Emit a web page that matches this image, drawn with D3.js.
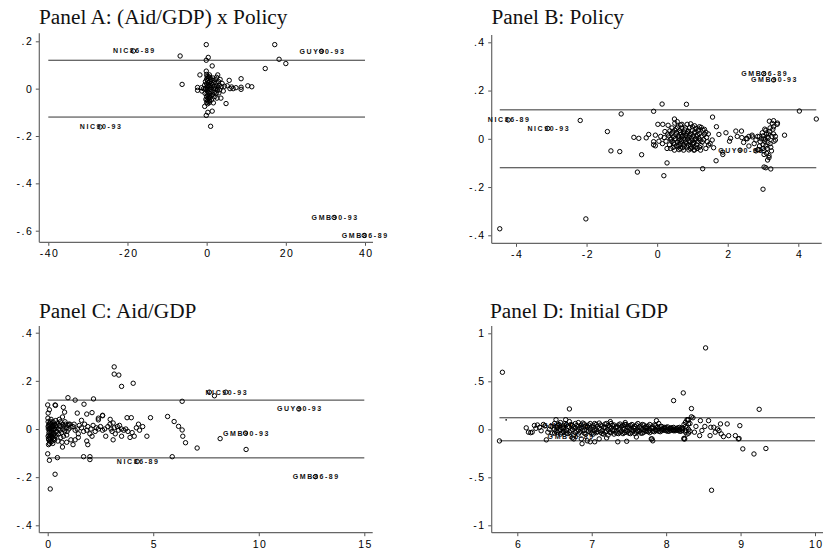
<!DOCTYPE html>
<html><head><meta charset="utf-8">
<script src="https://cdn.jsdelivr.net/npm/d3@7"></script>
<style>body{margin:0;background:#fff}</style></head>
<body><svg id="c" width="823" height="553"></svg>
<script>
// ---------------- DATA ----------------
const titles = ["Panel A: (Aid/GDP) x Policy", "Panel B: Policy", "Panel C: Aid/GDP", "Panel D: Initial GDP"];
const bandLimits = [-0.12, 0.12];

const ticksXA = [-40, -20, 0, 20, 40];
const tickLabelsXA = ["-40", "-20", "0", "20", "40"];
const ticksYA = [-0.6, -0.4, -0.2, 0, 0.2];
const tickLabelsYA = ["-.6", "-.4", "-.2", "0", ".2"];

const ticksXB = [-4, -2, 0, 2, 4];
const tickLabelsXB = ["-4", "-2", "0", "2", "4"];
const ticksYB = [-0.4, -0.2, 0, 0.2, 0.4];
const tickLabelsYB = ["-.4", "-.2", "0", ".2", ".4"];

const ticksXC = [0, 5, 10, 15];
const tickLabelsXC = ["0", "5", "10", "15"];
const ticksYC = [-0.4, -0.2, 0, 0.2, 0.4];
const tickLabelsYC = ["-.4", "-.2", "0", ".2", ".4"];

const ticksXD = [6, 7, 8, 9, 10];
const tickLabelsXD = ["6", "7", "8", "9", "10"];
const ticksYD = [-1, -0.5, 0, 0.5, 1];
const tickLabelsYD = ["-1", "-.5", "0", ".5", "1"];

const labelsA = [
  {name: "NIC86-89", x: -18.5, y: 0.159}, {name: "GUY90-93", x: 29.0, y: 0.158},
  {name: "NIC90-93", x: -26.9, y: -0.162}, {name: "GMB90-93", x: 32.2, y: -0.544},
  {name: "GMB86-89", x: 39.8, y: -0.62}];
const labelsB = [
  {name: "NIC86-89", x: -4.22, y: 0.078}, {name: "NIC90-93", x: -3.10, y: 0.043},
  {name: "GMB86-89", x: 3.02, y: 0.27}, {name: "GMB90-93", x: 3.30, y: 0.244},
  {name: "GUY90-93", x: 2.35, y: -0.047}];
const labelsC = [
  {name: "NIC90-93", x: 8.44, y: 0.153}, {name: "GUY90-93", x: 11.9, y: 0.083},
  {name: "GMB90-93", x: 9.37, y: -0.017}, {name: "GMB86-89", x: 12.68, y: -0.198},
  {name: "NIC86-89", x: 4.24, y: -0.135}];
const labelsD = [
  {name: "GMB90-93", x: 6.64, y: 0.038}, {name: "GMB86-89", x: 6.71, y: -0.076}];

const pointsA = [
 [-6.7,0.138],[-0.1,0.186],[0.4,0.132],[-0.1,0.12],[1.4,0.096],[17.2,0.186],[18.3,0.124],[20.0,0.106],[14.8,0.085],
 [-6.2,0.018],[-1.7,0.058],[8.7,0.042],[10.4,0.012],[11.4,0.008],[8.7,-0.003],[8.7,0.006],[7.4,0.004],[6.3,0.007],
 [5.7,0.035],[4.9,-0.063],[-0.5,-0.075],[-0.1,-0.113],[0.3,-0.1],[1.4,-0.095],[1.0,-0.159],[-0.1,0.074],[-2.3,0.005],
 [-2.3,-0.007],[3.4,0.039],[2.8,0.058],[3.0,0.03],[6.7,0.0],[5.9,0.0],[1.7,-0.06],[2.6,-0.04],[3.6,-0.04],[0.7,0.058],
 [-0.8,0.0],[-1.3,0.004],[-1.2,-0.01],[4.5,0.01],[4.2,-0.01],[5.2,0.012],[3.9,0.022],
 [0,0.06],[0.1,0.052],[0.3,0.045],[0,0.04],[0.2,0.033],[0.5,0.027],[0,0.02],[0.3,0.014],[0.1,0.008],[0.4,0.002],
 [0,-0.004],[0.2,-0.01],[0.5,-0.016],[0.1,-0.022],[0.3,-0.028],[0,-0.034],[0.4,-0.04],[0.1,-0.046],[0.3,-0.052],
 [0,-0.058],[0.2,-0.064],[0.6,-0.06],[0.8,0.048],[1.0,0.04],[0.9,0.03],[1.2,0.022],[0.8,0.015],[1.1,0.006],[0.9,-0.003],
 [1.3,-0.012],[0.8,-0.02],[1.1,-0.03],[0.9,-0.038],[1.2,-0.048],[0.7,-0.052],[1.6,0.035],[1.8,0.025],[1.5,0.015],
 [2.0,0.008],[1.7,-0.002],[1.9,-0.015],[1.5,-0.025],[2.1,-0.033],[1.6,0.045],[2.4,0.025],[2.6,0.012],[2.3,0.0],
 [2.7,-0.008],[2.4,-0.02],[2.9,0.004],[3.2,0.015],[3.3,-0.005],[3.7,0.008],[3.1,-0.018],[2.2,0.038],[2.5,0.048],
 [-0.3,0.03],[-0.4,-0.02],[-0.3,0.0],[-0.5,0.015],[-0.2,-0.045],[0.6,0.01],[0.7,-0.03],[0.5,0.05],[0.6,-0.04],
 [-18.5,0.159],[29.0,0.158],[-26.9,-0.162],[32.2,-0.544],[39.8,-0.62]];

const pointsB = [
 [-4.46,-0.373],[4.51,0.082],[4.03,0.115],[-2.02,-0.332],[-2.18,0.076],[-1.41,0.03],[-1.02,0.103],[-1.31,-0.05],
 [-1.06,-0.053],[-0.44,-0.066],[-0.56,-0.138],[0.19,-0.153],[0.28,-0.1],[0.14,0.144],[0.83,0.143],[-0.1,0.114],
 [1.29,-0.124],[1.57,0.09],[1.67,-0.091],[1.68,0.05],[3.0,-0.209],[3.08,-0.12],[3.22,-0.125],[3.61,0.015],[3.41,0.065],
 [-0.66,0.006],[-0.52,0.002],[-0.31,0.004],[-0.24,0.018],[0.02,0.06],[0.16,0.06],[-0.1,-0.012],[-0.05,-0.029],
 [1.75,0.018],[1.6,-0.037],[1.95,0.025],[1.86,-0.065],[1.86,-0.055],[2.08,0.002],[2.05,-0.01],[2.23,0.032],[2.39,0.032],
 [2.27,0.01],[2.45,-0.015],[2.53,0.002],[2.6,0.01],[2.69,0.015],[2.8,-0.005],[2.88,-0.045],[2.8,-0.05],[3.03,-0.065],
 [3.13,-0.088],[3.17,-0.078],[3.03,-0.117],[3.18,0.073],[3.26,0.064],[3.3,0.05],[3.4,0.06],[3.35,0.01],[3.31,-0.01],
 [0.31,0.056],[0.49,0.082],[0.57,0.071],[0.66,0.057],[0.85,0.06],[1.06,0.054],[1.2,0.05],[1.34,0.039],[1.38,0.027],
 [0.38,-0.04],[0.49,-0.047],[0.66,-0.04],[0.75,-0.047],[0.94,-0.04],[1.04,-0.047],[1.13,-0.04],[1.23,-0.047],
 [1.56,-0.005],[1.42,-0.012],[1.46,-0.026],
 [0.42,0.045],[0.58,0.048],[0.7,0.044],[0.92,0.046],[1.1,0.043],[1.25,0.047],
 [0.36,0.033],[0.5,0.036],[0.64,0.034],[0.78,0.037],[0.88,0.032],[1.0,0.035],[1.16,0.033],[1.3,0.036],
 [0.4,0.021],[0.55,0.024],[0.68,0.02],[0.75,0.025],[0.84,0.022],[0.96,0.019],[1.05,0.024],[1.2,0.021],[1.34,0.018],
 [0.33,0.012],[0.46,0.008],[0.6,0.011],[0.71,0.009],[0.82,0.013],[0.9,0.007],[1.02,0.011],[1.12,0.008],[1.27,0.012],[1.4,0.006],
 [0.38,-0.002],[0.52,0.001],[0.65,-0.003],[0.76,0.002],[0.86,-0.001],[0.97,0.003],[1.08,-0.002],[1.18,0.001],[1.32,-0.004],
 [0.42,-0.011],[0.57,-0.014],[0.69,-0.01],[0.8,-0.013],[0.93,-0.012],[1.04,-0.015],[1.15,-0.011],[1.28,-0.013],
 [0.35,-0.025],[0.48,-0.022],[0.62,-0.026],[0.74,-0.023],[0.88,-0.027],[1.0,-0.022],[1.12,-0.025],[1.24,-0.028],
 [0.45,-0.036],[0.6,-0.033],[0.72,-0.037],[0.85,-0.034],[0.98,-0.038],[1.1,-0.035],
 [0.44,0.028],[0.53,0.016],[0.6,0.003],[0.66,0.027],[0.73,0.014],[0.79,-0.005],[0.86,0.028],[0.91,0.015],[0.99,-0.006],
 [1.07,0.029],[1.14,0.016],[1.22,-0.006],[0.47,-0.017],[0.55,-0.029],[0.66,-0.018],[0.77,-0.03],[0.83,-0.018],
 [0.95,-0.03],[1.03,-0.02],[1.2,-0.035],[0.54,0.042],[0.8,0.045],[1.0,0.05],[1.18,0.04],[0.4,0.0],[0.62,-0.008],
 [0.9,-0.008],[1.1,-0.001],
 [0.3,0.02],[0.25,-0.01],[0.2,0.005],[0.15,-0.02],[0.1,0.01],[0.05,-0.01],[-0.05,0.015],[-0.1,-0.025],[0.22,0.03],
 [0.28,-0.04],[1.45,0.02],[1.5,-0.02],[1.38,-0.04],[0.5,0.065],[0.62,-0.045],[0.9,-0.046],[1.06,-0.046],[0.95,0.062],[0.7,0.06],
 [2.95,0.0],[3.0,0.012],[3.05,-0.01],[3.1,0.02],[3.15,0.005],[3.2,-0.02],[3.0,-0.025],[3.08,0.035],[3.12,-0.04],[3.18,0.03],
 [3.25,0.01],[3.03,-0.05],[3.1,-0.06],[3.22,-0.035],[3.28,0.04],[2.98,0.025],[3.06,-0.002],[3.14,-0.015],[3.2,0.045],
 [3.05,0.04],[3.12,0.008],[3.0,-0.04],[3.17,-0.07],[2.92,-0.012],[3.3,0.02],[3.24,-0.05],[3.08,-0.03],[2.9,0.01],
 [3.15,0.02],[3.02,0.0],
 [2.7,0.008],[2.75,-0.02],[2.85,0.01],[2.6,-0.03],[2.55,0.0],[2.4,0.005],[2.9,-0.03],[2.85,-0.045],[3.35,-0.005],[3.3,0.075],
 [-4.22,0.078],[-3.10,0.043],[3.02,0.27],[3.30,0.244],[2.35,-0.047]];

const pointsC = [
 [3.15,0.258],[3.15,0.228],[3.37,0.224],[3.5,0.177],[4.05,0.19],[6.37,0.115],[5.68,0.052],[5.99,0.031],[6.2,0.011],
 [6.37,-0.004],[6.4,-0.03],[6.53,-0.057],[7.08,-0.079],[5.9,-0.115],[8.17,-0.04],[9.4,-0.085],[4.87,0.047],[3.96,0.047],
 [3.76,0.047],[0.12,-0.249],[0.35,-0.188],[0.0,-0.103],[0.08,-0.13],[0.46,-0.119],[1.7,-0.115],[2.0,-0.115],[2.0,-0.127],
 [0.96,0.13],[1.3,0.12],[1.72,0.103],[2.17,0.125],[0.0,0.1],[0.08,0.08],[0.02,0.066],[0.35,0.1],[0.37,0.098],[0.74,0.09],
 [0.8,0.07],[0.7,0.05],[1.4,0.066],[1.85,0.062],[2.1,0.068],[1.6,0.036],[2.4,0.038],[2.6,0.057],[2.96,0.04],
 [7.66,0.153],[7.9,0.138],
 [0.02,0.03],[0.05,0.015],[0.03,0.0],[0.06,-0.015],[0.02,-0.03],[0.05,-0.045],[0.08,-0.06],[0.1,0.025],[0.12,0.005],
 [0.1,-0.01],[0.14,-0.025],[0.12,-0.04],[0.15,-0.055],[0.18,0.02],[0.2,0.0],[0.18,-0.015],[0.22,-0.035],[0.2,-0.05],
 [0.25,0.03],[0.28,0.01],[0.26,-0.005],[0.3,-0.02],[0.28,-0.04],[0.32,0.02],[0.35,0.0],[0.34,-0.03],[0.38,0.035],
 [0.4,0.012],[0.42,-0.01],[0.4,-0.025],[0.01,0.045],[0.04,-0.065],[0.16,0.04],[0.24,-0.06],
 [0.07,0.02],[0.09,0.0],[0.13,0.015],[0.16,-0.005],[0.06,-0.025],[0.11,-0.05],[0.19,-0.03],[0.23,0.01],[0.27,-0.025],
 [0.31,0.0],[0.33,-0.045],[0.37,0.015],[0.02,0.01],[0.04,-0.04],[0.14,0.03],[0.08,-0.035],
 [0.46,0.025],[0.5,0.0],[0.52,-0.02],[0.55,0.015],[0.58,-0.005],[0.6,0.03],[0.63,0.01],[0.66,-0.015],[0.7,0.02],
 [0.72,0.0],[0.76,0.012],[0.8,-0.008],[0.84,0.02],[0.88,0.005],[0.92,-0.01],[0.96,0.015],[1.0,0.0],[1.05,0.02],
 [1.1,0.008],[0.62,-0.035],[0.75,-0.03],[0.9,-0.025],[0.48,-0.05],[0.68,-0.055],[0.55,0.04],[0.82,0.03],
 [1.2,0.01],[1.3,-0.005],[1.25,0.02],[1.4,0.0],[1.5,0.015],[1.45,-0.02],[1.6,0.005],[1.7,-0.01],[1.75,0.02],
 [1.85,-0.005],[1.9,0.01],[2.0,-0.02],[2.05,0.0],[2.1,-0.03],[2.15,0.015],[2.25,-0.01],[2.3,0.005],[2.4,0.0],
 [2.5,0.01],[2.6,-0.005],[2.7,0.0],[2.75,-0.03],[2.85,0.01],[2.95,0.02],[3.0,0.0],[3.05,-0.01],[3.1,0.025],
 [3.15,0.005],[3.2,-0.02],[3.3,0.01],[3.35,-0.005],[3.4,0.015],[3.5,0.0],[3.6,-0.005],[3.7,0.0],[3.8,-0.01],
 [3.9,-0.035],[4.0,-0.015],[4.1,-0.03],[4.2,0.005],[4.3,0.02],[4.35,-0.005],[4.5,0.01],[4.7,-0.03],[3.1,-0.045],
 [3.5,-0.03],[1.3,-0.045],[1.2,-0.065],[1.45,-0.035],[1.85,-0.05],[1.9,-0.065],[0.9,-0.055],[0.7,-0.075],[2.4,0.045],
 [2.6,0.055],[1.1,-0.045],[1.0,0.02],
 [8.44,0.153],[11.9,0.083],[9.37,-0.017],[12.68,-0.198],[4.24,-0.135]];

const pointsD = [
 [5.8,0.594],[5.76,-0.121],[8.53,0.848],[8.61,-0.635],[8.10,0.299],[8.23,0.379],[8.34,0.216],[8.36,0.12],[6.70,0.212],
 [9.25,0.208],[9.03,-0.204],[9.18,-0.257],[9.34,-0.2],[8.99,0.038],[8.98,-0.096],[8.93,-0.066],[8.84,-0.066],
 [8.77,-0.076],[8.74,-0.048],[8.82,0.056],[8.73,0.056],[8.71,-0.013],[8.69,0.004],[8.64,0.021],[8.6,0.021],
 [8.59,-0.066],[8.57,0.09],[8.46,0.09],[8.48,-0.013],[8.45,-0.066],[8.29,0.098],[8.26,0.073],[8.3,0.056],[8.25,-0.1],
 [8.97,-0.1],[8.4,0.03],[8.38,-0.03],[8.52,0.03],[8.66,-0.03],
 [6.12,0.015],[6.15,-0.03],[6.18,-0.035],[6.2,-0.03],[6.23,0.04],[6.25,0.01],[6.27,0.045],[6.3,0.02],[6.32,-0.015],
 [6.35,0.05],[6.37,0.035],[6.39,-0.11],[6.41,-0.03],[6.43,0.0],[6.45,0.03],[6.47,-0.04],
 [6.87,-0.15],[6.98,-0.13],[7.04,-0.13],[7.35,-0.13],[7.47,-0.125],[7.81,-0.1],[7.82,-0.12],[6.76,-0.1],[7.2,-0.09],
 [7.6,-0.08],[8.24,-0.094],[6.52,0.1],[6.65,0.1],[7.25,0.08],[7.45,0.07],[7.87,0.09],[8.28,0.1],[8.34,0.13],
 [6.5,0.06],[6.5,0.0],[6.5,-0.04],[6.54,0.04],[6.54,0.015],[6.54,-0.03],[6.58,0.07],[6.58,-0.005],[6.58,-0.05],
 [6.62,0.035],[6.62,0.01],[6.62,-0.025],[6.66,0.05],[6.66,-0.01],[6.66,-0.04],[6.7,0.08],[6.7,0.02],[6.7,-0.03],
 [6.74,0.04],[6.74,0.0],[6.74,-0.09],[6.78,0.06],[6.78,0.015],[6.78,-0.035],[6.82,0.07],[6.82,-0.005],[6.82,-0.05],
 [6.86,0.045],[6.86,0.01],[6.86,-0.1],[6.9,0.055],[6.9,-0.01],[6.9,-0.04],[6.94,0.03],[6.94,0.02],[6.94,-0.12],
 [6.98,0.06],[6.98,0.0],[6.98,-0.03],[7.02,0.04],[7.02,0.015],[7.02,-0.05],[7.06,0.05],[7.06,-0.005],[7.06,-0.035],
 [7.1,0.065],[7.1,0.01],[7.1,-0.1],[7.14,0.035],[7.14,-0.015],[7.14,-0.045],[7.18,0.055],[7.18,0.02],[7.18,-0.03],
 [7.22,0.04],[7.22,0.0],[7.22,-0.06],[7.26,0.06],[7.26,0.012],[7.26,-0.035],[7.3,0.045],[7.3,-0.01],[7.3,-0.05],
 [7.34,0.03],[7.34,0.018],[7.34,-0.04],[7.38,0.055],[7.38,0.0],[7.38,-0.03],[7.42,0.04],[7.42,0.01],[7.42,-0.045],
 [7.46,0.05],[7.46,-0.012],[7.46,-0.03],[7.5,0.035],[7.5,0.015],[7.5,-0.04],[7.54,0.05],[7.54,-0.005],[7.54,-0.03],
 [7.58,0.03],[7.58,0.01],[7.58,-0.045],[7.62,0.06],[7.62,-0.01],[7.62,-0.025],[7.66,0.035],[7.66,0.012],[7.66,-0.04],
 [7.7,0.045],[7.7,-0.005],[7.7,-0.03],[7.74,0.03],[7.74,0.01],[7.74,-0.02],[7.78,0.05],[7.78,-0.01],[7.78,-0.035],
 [7.82,0.025],[7.82,0.008],[7.82,-0.02],[7.86,0.04],[7.86,-0.005],[7.86,-0.015],[7.9,0.06],[7.9,0.01],[7.9,-0.02],
 [7.94,0.03],[7.94,0.0],[7.94,-0.015],[7.98,0.02],[7.98,0.012],[7.98,-0.01],[8.02,0.025],[8.02,-0.005],[8.02,-0.02],
 [8.06,0.015],[8.06,0.008],[8.06,-0.01],[8.1,0.02],[8.1,-0.005],[8.1,-0.015],[8.14,0.01],[8.14,0.005],[8.14,-0.01],
 [8.18,0.02],[8.18,-0.005],[8.18,-0.02],[8.22,0.015],[8.22,0.005],[8.22,-0.01],[8.26,0.03],[8.26,-0.01],[8.26,-0.03],
 [8.3,0.1],[8.3,0.0],[8.3,-0.04],
 [6.52,0.025],[6.52,-0.02],[6.56,0.05],[6.56,-0.015],[6.6,0.02],[6.6,-0.035],[6.64,0.06],[6.64,-0.02],[6.68,0.03],
 [6.68,-0.045],[6.72,0.05],[6.72,-0.015],[6.76,0.025],[6.76,-0.06],[6.8,0.04],[6.8,-0.02],[6.84,0.02],[6.84,-0.03],
 [6.88,0.065],[6.88,-0.015],[6.92,0.03],[6.92,-0.05],[6.96,0.045],[6.96,-0.02],[7.0,0.025],[7.0,-0.04],[7.04,0.06],
 [7.04,-0.015],[7.08,0.03],[7.08,-0.025],[7.12,0.045],[7.12,-0.03],[7.16,0.02],[7.16,-0.05],[7.2,0.06],[7.2,-0.02],
 [7.24,0.025],[7.24,-0.03],[7.28,0.04],[7.28,-0.015],[7.32,0.02],[7.32,-0.03],[7.36,0.045],[7.36,-0.045],[7.4,0.03],
 [7.4,-0.02],[7.44,0.05],[7.44,-0.035],[7.48,0.025],[7.48,-0.02],[7.52,0.04],[7.52,-0.045],[7.56,0.02],[7.56,-0.015],
 [7.6,0.045],[7.6,-0.03],[7.64,0.025],[7.64,-0.02],[7.68,0.05],[7.68,-0.04],[7.72,0.02],[7.72,-0.015],[7.76,0.035],
 [7.76,-0.025],[7.8,0.015],[7.8,-0.1],[7.84,0.045],[7.84,-0.025],[7.88,0.02],[7.88,-0.01],[7.92,0.03],[7.92,-0.025],
 [7.96,0.01],[7.96,-0.005],[8.0,0.02],[8.0,-0.015],[8.04,0.005],[8.04,-0.02],[8.08,0.015],[8.08,-0.005],[8.12,0.0],
 [8.12,-0.015],[8.16,0.015],[8.16,-0.01],[8.2,0.005],[8.2,-0.02],[8.24,0.05],[8.24,-0.1],[8.28,0.02],[8.28,-0.05],
 [8.32,0.06],[8.32,-0.02]];
const dotsD = [[5.85, 0.098]];

// ---------------- LAYOUT ----------------
const svg = d3.select("#c");
const panels = [
  {title: titles[0], pts: pointsA, labels: labelsA, xt: ticksXA, xtl: tickLabelsXA, yt: ticksYA, ytl: tickLabelsYA,
   xr: [48.3, 365], yr: [230.7, 41.3], left: 39.3, right: 373, top: 33.3, bottom: 242.3, tx: 39, ty: 23.5},
  {title: titles[1], pts: pointsB, labels: labelsB, xt: ticksXB, xtl: tickLabelsXB, yt: ticksYB, ytl: tickLabelsYB,
   xr: [516, 798.3], yr: [235.3, 42.3], left: 491.7, right: 821.7, top: 35, bottom: 243.3, tx: 491.5, ty: 23.5},
  {title: titles[2], pts: pointsC, labels: labelsC, xt: ticksXC, xtl: tickLabelsXC, yt: ticksYC, ytl: tickLabelsYC,
   xr: [47.7, 364.3], yr: [525.3, 332.7], left: 39.3, right: 372.7, top: 326, bottom: 532.7, tx: 39, ty: 317.5},
  {title: titles[3], pts: pointsD, labels: labelsD, xt: ticksXD, xtl: tickLabelsXD, yt: ticksYD, ytl: tickLabelsYD,
   xr: [517.3, 815], yr: [525.3, 333.3], left: 491.7, right: 823, top: 326, bottom: 532.7, tx: 490, ty: 317.5, dots: dotsD}
];

const tickFont = "'Liberation Sans', Arial, Helvetica, sans-serif";

panels.forEach(p => {
  const x = d3.scaleLinear().domain(d3.extent(p.xt)).range(p.xr);
  const y = d3.scaleLinear().domain(d3.extent(p.yt)).range(p.yr);
  const g = svg.append("g");

  g.append("text").attr("x", p.tx).attr("y", p.ty).text(p.title)
    .attr("font-family", "'Liberation Serif', 'Times New Roman', serif").attr("font-size", 21.3).attr("fill", "#111");

  // axes
  const ya = d3.axisLeft(y).tickValues(p.yt).tickFormat((d, i) => p.ytl[i]).tickSize(3.5).tickPadding(2.5);
  const yg = g.append("g").attr("transform", `translate(${p.left},0)`).call(ya);
  const xa = d3.axisBottom(x).tickValues(p.xt).tickFormat((d, i) => p.xtl[i]).tickSize(3.5).tickPadding(4);
  const xg = g.append("g").attr("transform", `translate(0,${p.bottom})`).call(xa);
  [yg, xg].forEach(a => {
    a.select(".domain").remove();
    a.selectAll("line").attr("stroke", "#555").attr("stroke-width", 1);
    a.selectAll("text").attr("font-family", tickFont).attr("font-size", 10.5)
      .attr("letter-spacing", "1.5px").attr("fill", "#000");
  });
  xg.selectAll("text").attr("dx", "0.75");
  g.append("line").attr("x1", p.left).attr("x2", p.left).attr("y1", p.top).attr("y2", p.bottom)
    .attr("stroke", "#666").attr("stroke-width", 1.2);
  g.append("line").attr("x1", p.left).attr("x2", p.right).attr("y1", p.bottom).attr("y2", p.bottom)
    .attr("stroke", "#666").attr("stroke-width", 1.2);

  // reference band lines
  const ex = d3.extent(p.pts, d => d[0]);
  const lx0 = Math.min(ex[0], d3.min(p.xt)), lx1 = Math.max(ex[1], d3.max(p.xt));
  bandLimits.forEach(v => {
    g.append("line").attr("x1", x(lx0)).attr("x2", x(lx1)).attr("y1", y(v)).attr("y2", y(v))
      .attr("stroke", "#333").attr("stroke-width", 1);
  });

  // labels
  g.selectAll(".lab").data(p.labels).join("text")
    .attr("x", d => x(d.x) + 1).attr("y", d => y(d.y)).attr("dy", "0.35em")
    .attr("text-anchor", "middle").attr("font-family", tickFont).attr("font-size", 7)
    .attr("font-weight", "bold").attr("letter-spacing", "1.6px").attr("fill", "#111").text(d => d.name);

  // points
  g.selectAll(".pt").data(p.pts).join("circle")
    .attr("cx", d => x(d[0])).attr("cy", d => y(d[1])).attr("r", 2.2)
    .attr("fill", "none").attr("stroke", "#000").attr("stroke-width", 1);

  if (p.dots) {
    g.selectAll(".dot").data(p.dots).join("circle")
      .attr("cx", d => x(d[0])).attr("cy", d => y(d[1])).attr("r", 0.8).attr("fill", "#000");
  }
});
</script>
</body></html>
